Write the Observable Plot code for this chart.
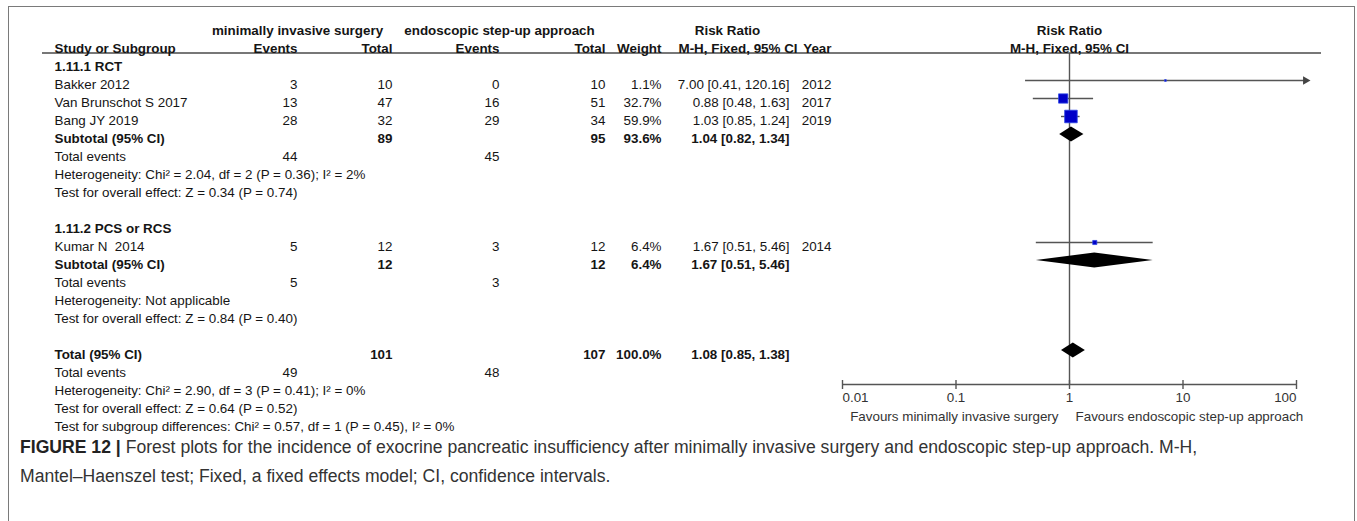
<!DOCTYPE html>
<html>
<head>
<meta charset="utf-8">
<script src="https://cdn.jsdelivr.net/npm/d3@7"></script>
<script src="https://cdn.jsdelivr.net/npm/@observablehq/plot@0.6"></script>
<style>
  html, body { margin: 0; padding: 0; background: #fff; }
  body { width: 1357px; height: 521px; position: relative; overflow: hidden; font-family: "Liberation Sans", Arial, sans-serif; }
  #box { position: absolute; left: 8px; top: 6px; width: 1345px; height: 600px; border: 1.5px solid #7a7a7a; border-bottom: none; }
  #chart { position: absolute; left: 0; top: 0; width: 1357px; height: 435px; }
  #chart svg { position: absolute; left: 0; top: 0; }
  #cap { position: absolute; left: 20px; top: 433px; width: 1330px; font-size: 17.6px; line-height: 29px; color: #333; white-space: nowrap; }
  #cap b { color: #222; }
</style>
</head>
<body>
<div id="box"></div>
<div id="chart"></div>
<div id="cap"><b>FIGURE 12 |</b> Forest plots for the incidence of exocrine pancreatic insufficiency after minimally invasive surgery and endoscopic step-up approach. M-H,<br>Mantel–Haenszel test; Fixed, a fixed effects model; CI, confidence intervals.</div>
<script>
// ---------- data ----------
const groups = ["1.11.1 RCT", "1.11.2 PCS or RCS"];
const studies = ["Bakker 2012", "Van Brunschot S 2017", "Bang JY 2019", "Kumar N  2014"];
const studyGroup = [0, 0, 0, 1];
const misEvents = [3, 13, 28, 5];
const misTotal = [10, 47, 32, 12];
const endoEvents = [0, 16, 29, 3];
const endoTotal = [10, 51, 34, 12];
const weight = [1.1, 32.7, 59.9, 6.4];
const rr = [7.00, 0.88, 1.03, 1.67];
const rrLo = [0.41, 0.48, 0.85, 0.51];
const rrHi = [120.16, 1.63, 1.24, 5.46];
const year = [2012, 2017, 2019, 2014];

const pooledLabel = ["Subtotal (95% CI)", "Subtotal (95% CI)", "Total (95% CI)"];
const pooledMisTotal = [89, 12, 101];
const pooledEndoTotal = [95, 12, 107];
const pooledWeight = [93.6, 6.4, 100.0];
const pooledRR = [1.04, 1.67, 1.08];
const pooledLo = [0.82, 0.51, 0.85];
const pooledHi = [1.34, 5.46, 1.38];
const pooledMisEvents = [44, 5, 49];
const pooledEndoEvents = [45, 3, 48];
const heterogeneity = [
  "Heterogeneity: Chi² = 2.04, df = 2 (P = 0.36); I² = 2%",
  "Heterogeneity: Not applicable",
  "Heterogeneity: Chi² = 2.90, df = 3 (P = 0.41); I² = 0%"
];
const overallEffect = [
  "Test for overall effect: Z = 0.34 (P = 0.74)",
  "Test for overall effect: Z = 0.84 (P = 0.40)",
  "Test for overall effect: Z = 0.64 (P = 0.52)"
];
const subgroupTest = "Test for subgroup differences: Chi² = 0.57, df = 1 (P = 0.45), I² = 0%";
const axisTicks = [0.01, 0.1, 1, 10, 100];
const favoursLeft = "Favours minimally invasive surgery";
const favoursRight = "Favours endoscopic step-up approach";

// ---------- layout ----------
const W = 1357, H = 435;
const ROW0 = 66, ROWH = 18;
const rowOf = px => (px - ROW0) / ROWH;
const FONT = "Liberation Sans, Arial, sans-serif";
const FS = 13.4;
const INK = "#151515";
const col = { label: 54, misEv: 297, misTot: 392, endoEv: 499, endoTot: 605, weight: 661, ci: 789, year: 831 };

// build row list
const rows = [];
let r = 0;
groups.forEach((g, gi) => {
  rows.push({ row: r++, type: "group", label: g });
  studies.forEach((s, i) => { if (studyGroup[i] === gi) rows.push({ row: r++, type: "study", i }); });
  rows.push({ row: r++, type: "pooled", p: gi });
  rows.push({ row: r++, type: "events", p: gi });
  rows.push({ row: r++, type: "text", label: heterogeneity[gi] });
  rows.push({ row: r++, type: "text", label: overallEffect[gi] });
  r++;
});
rows.push({ row: r++, type: "pooled", p: 2 });
rows.push({ row: r++, type: "events", p: 2 });
rows.push({ row: r++, type: "text", label: heterogeneity[2] });
rows.push({ row: r++, type: "text", label: overallEffect[2] });
rows.push({ row: r++, type: "text", label: subgroupTest });
const nRows = r;

const ci = (m, l, h) => `${m.toFixed(2)} [${l.toFixed(2)}, ${h.toFixed(2)}]`;
const cells = [];
const add = (x, row, text, anchor, bold) => cells.push({ x, row, text: String(text), anchor, bold });
// headers
add(297, -2, "minimally invasive surgery", "middle", true);
add(499, -2, "endoscopic step-up approach", "middle", true);
add(727, -2, "Risk Ratio", "middle", true);
add(col.label, -1, "Study or Subgroup", "start", true);
add(col.misEv, -1, "Events", "end", true);
add(col.misTot, -1, "Total", "end", true);
add(col.endoEv, -1, "Events", "end", true);
add(col.endoTot, -1, "Total", "end", true);
add(col.weight, -1, "Weight", "end", true);
add(678, -1, "M-H, Fixed, 95% CI", "start", true);
add(col.year, -1, "Year", "end", true);

const forestStudies = [];
const forestPooled = [];
rows.forEach(d => {
  if (d.type === "group") add(col.label, d.row, d.label, "start", true);
  else if (d.type === "text") add(col.label, d.row, d.label, "start", false);
  else if (d.type === "study") {
    const i = d.i;
    add(col.label, d.row, studies[i], "start", false);
    add(col.misEv, d.row, misEvents[i], "end", false);
    add(col.misTot, d.row, misTotal[i], "end", false);
    add(col.endoEv, d.row, endoEvents[i], "end", false);
    add(col.endoTot, d.row, endoTotal[i], "end", false);
    add(col.weight, d.row, weight[i].toFixed(1) + "%", "end", false);
    add(col.ci, d.row, ci(rr[i], rrLo[i], rrHi[i]), "end", false);
    add(col.year, d.row, year[i], "end", false);
    forestStudies.push({ row: d.row, rr: rr[i], lo: rrLo[i], hi: rrHi[i], w: weight[i] });
  } else if (d.type === "pooled") {
    const p = d.p;
    add(col.label, d.row, pooledLabel[p], "start", true);
    add(col.misTot, d.row, pooledMisTotal[p], "end", true);
    add(col.endoTot, d.row, pooledEndoTotal[p], "end", true);
    add(col.weight, d.row, pooledWeight[p].toFixed(1) + "%", "end", true);
    add(col.ci, d.row, ci(pooledRR[p], pooledLo[p], pooledHi[p]), "end", true);
    forestPooled.push({ row: d.row, rr: pooledRR[p], lo: pooledLo[p], hi: pooledHi[p] });
  } else if (d.type === "events") {
    add(col.label, d.row, "Total events", "start", false);
    add(col.misEv, d.row, pooledMisEvents[d.p], "end", false);
    add(col.endoEv, d.row, pooledEndoEvents[d.p], "end", false);
  }
});

const textMarks = [];
for (const anchor of ["start", "middle", "end"]) {
  for (const bold of [false, true]) {
    const sub = cells.filter(c => c.anchor === anchor && c.bold === bold);
    if (sub.length) textMarks.push(Plot.text(sub, {
      x: "x", y: "row", text: "text", textAnchor: anchor,
      fontWeight: bold ? "bold" : "normal", fontSize: FS, fill: INK
    }));
  }
}

const table = Plot.plot({
  width: W, height: H,
  marginTop: ROW0, marginBottom: H - (ROW0 + ROWH * (nRows - 1)), marginLeft: 0, marginRight: 0,
  style: { fontFamily: FONT, background: "transparent" },
  x: { type: "identity", axis: null },
  y: { domain: [0, nRows - 1], reverse: true, axis: null },
  marks: [
    Plot.ruleY([rowOf(52.5)], { x1: 42, x2: 1321, stroke: "#4a4a4a", strokeWidth: 1.5 }),
    ...textMarks
  ]
});

// ---------- forest panel ----------
const AXIS_PX = 384;
const yAxisRow = rowOf(AXIS_PX);
const diamondPts = [];
const HALF = 7.5 / ROWH;
forestPooled.forEach((d, k) => {
  diamondPts.push({ k, x: d.lo, y1: d.row, y2: d.row });
  diamondPts.push({ k, x: d.rr, y1: d.row - HALF, y2: d.row + HALF });
  diamondPts.push({ k, x: d.hi, y1: d.row, y2: d.row });
});
const xMax = axisTicks[axisTicks.length - 1];
const arrows = forestStudies.filter(d => d.hi > xMax);
const axisOpts = { anchor: "bottom", tickSize: 5, tickPadding: 3, tickFormat: d => String(d), fontSize: FS, stroke: "#555", strokeWidth: 1.4, color: "#333", label: null };

const forest = Plot.plot({
  width: W, height: H,
  marginTop: ROW0, marginBottom: H - AXIS_PX, marginLeft: 842, marginRight: W - 1296,
  style: { fontFamily: FONT, background: "transparent" },
  x: { type: "log", domain: [axisTicks[0], xMax], axis: null },
  y: { domain: [0, yAxisRow], reverse: true, axis: null },
  r: { type: "sqrt", domain: [0, d3.max(weight)], range: [0, 7.1] },
  marks: [
    Plot.text(["Risk Ratio"], { x: [1], y: [-2], text: d => d, fontWeight: "bold", fontSize: FS, fill: INK }),
    Plot.text(["M-H, Fixed, 95% CI"], { x: [1], y: [-1], text: d => d, fontWeight: "bold", fontSize: FS, fill: INK }),
    Plot.ruleX([1], { y1: rowOf(53), y2: yAxisRow, stroke: "#555", strokeWidth: 1.4 }),
    Plot.ruleY([yAxisRow], { x1: axisTicks[0], x2: xMax, stroke: "#555", strokeWidth: 1.4 }),
    Plot.ruleX(axisTicks, { y1: rowOf(AXIS_PX - 4), y2: yAxisRow, stroke: "#555", strokeWidth: 1.4 }),
    Plot.axisX(axisTicks.slice(1, -1), axisOpts),
    Plot.axisX([axisTicks[0]], { ...axisOpts, textAnchor: "start" }),
    Plot.axisX([xMax], { ...axisOpts, textAnchor: "end" }),
    Plot.text([favoursLeft], { x: [1], y: [rowOf(416)], text: d => d, textAnchor: "end", dx: -11, fontSize: FS, fill: "#333" }),
    Plot.text([favoursRight], { x: [1], y: [rowOf(416)], text: d => d, textAnchor: "start", dx: 6, fontSize: FS, fill: "#333" }),
    Plot.ruleY(forestStudies, { y: "row", x1: "lo", x2: "hi", dy: -4, stroke: "#555", strokeWidth: 1.4 }),
    Plot.dot(arrows, { x: "hi", y: "row", dy: -4, symbol: "triangle", rotate: 90, r: 3.2, fill: "#444", stroke: "none" }),
    Plot.dot(forestStudies, { x: "rr", y: "row", r: "w", dy: -4, symbol: "square", fill: "#0000c8", stroke: "#2f48e6", strokeWidth: 0.8 }),
    Plot.areaY(diamondPts, { x: "x", y1: "y1", y2: "y2", z: "k", dy: -4, fill: "#000", curve: "linear" })
  ]
});

const chart = document.getElementById("chart");
chart.appendChild(table);
chart.appendChild(forest);
</script>
</body>
</html>
